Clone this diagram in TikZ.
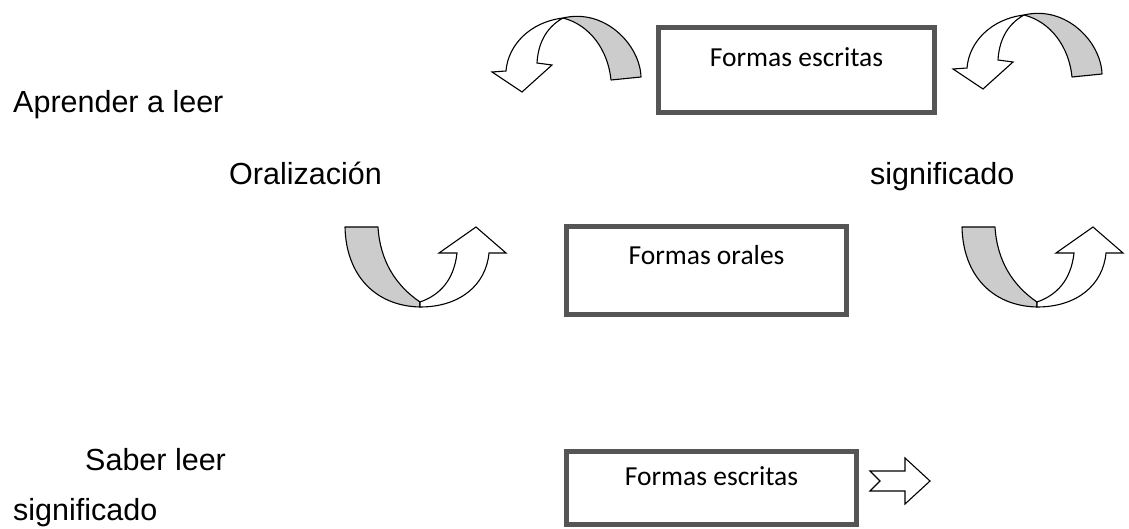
\documentclass[tikz,border=0pt]{standalone}
\usepackage{fontspec}
\setmainfont{Liberation Sans}
\newfontfamily\boxfont{Carlito}
\definecolor{boxgray}{RGB}{85,85,85}
\definecolor{bandgray}{RGB}{204,204,204}
\tikzset{
  lbl/.style={inner sep=0pt, anchor=base west, font=\fontsize{30.5}{36}\selectfont},
  boxnode/.style={draw=boxgray, line width=5pt, fill=white, inner sep=0pt, anchor=base, font=\boxfont\fontsize{27.5}{32}\selectfont},
  band/.style={draw=black, line width=1.1pt, fill=bandgray, line join=round},
  front/.style={draw=black, line width=1.1pt, fill=white, line join=miter},
}
\begin{document}
\begin{tikzpicture}[x=1pt,y=-1pt]
\useasboundingbox (0,0) rectangle (1129,529);
% labels
\node[lbl] (aprender) at (13,113) {Aprender a leer};
\node[lbl] (oral) at (229,185) {Oralización};
\node[lbl] (signif1) at (870,185) {significado};
\node[lbl] (saber) at (85,470) {Saber leer};
\node[lbl] (signif2) at (13,520) {significado};
% boxes
\node[boxnode, minimum width=276pt, text height=39.5pt, text depth=45.5pt] (escritas1) at (796.5,67) {Formas escritas};
\node[boxnode, minimum width=280pt, text height=38.5pt, text depth=49.5pt] (orales) at (706.5,265) {Formas orales};
\node[boxnode, minimum width=290pt, text height=33.5pt, text depth=39.5pt] (escritas2) at (711.5,485) {Formas escritas};
% top curved arrows
\foreach \dx/\dy in {0/0, 461/-3}{
  \begin{scope}[shift={(\dx,\dy)}]
    \path[band] (563,18) .. controls (605,8) and (640,45) .. (641,77) -- (611,80)
      .. controls (608,50) and (590,25) .. (563,18) -- cycle;
    \path[front] (563,18) .. controls (530,22) and (508,45) .. (506,71) -- (492,72) -- (522,92)
      -- (552,65) -- (537,63) .. controls (538,45) and (545,28) .. (563,18) -- cycle;
  \end{scope}
}
% U arrows
\foreach \dx in {0, 617}{
  \begin{scope}[shift={(\dx,0)}]
    \path[band] (345,227) -- (378,227) .. controls (380,260) and (395,285) .. (420,302)
      -- (420,307) .. controls (375,306) and (346,275) .. (345,227) -- cycle;
    \path[front] (420,307) .. controls (460,307) and (486,285) .. (489,253) -- (506,253)
      -- (476,227) -- (439,253) -- (457,253) .. controls (454,280) and (440,295) .. (420,302) -- cycle;
  \end{scope}
}
% outline arrow
\path[front] (870,471) -- (905,471) -- (905,458) -- (930,481) -- (905,504) -- (905,491)
  -- (870,491) -- (880,481) -- cycle;
\end{tikzpicture}
\end{document}
